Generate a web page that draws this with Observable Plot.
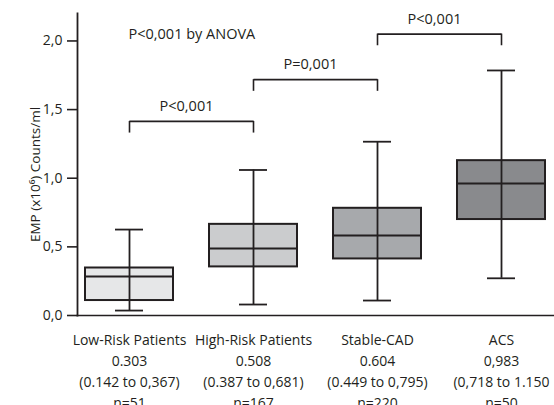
<!DOCTYPE html>
<html><head><meta charset="utf-8">
<script src="https://cdn.jsdelivr.net/npm/d3@7"></script>
<script src="https://cdn.jsdelivr.net/npm/@observablehq/plot@0.6"></script>
<style>body{margin:0;background:#fff;}</style>
</head><body><div id="chart"></div>
<script>
// Data
const categories = ["Low-Risk Patients", "High-Risk Patients", "Stable-CAD", "ACS"];
const whiskerLow  = [0.036, 0.080, 0.109, 0.271];
const q1          = [0.109, 0.354, 0.412, 0.699];
const median      = [0.284, 0.488, 0.582, 0.961];
const q3          = [0.346, 0.664, 0.781, 1.128];
const whiskerHigh = [0.626, 1.060, 1.266, 1.785];
const medianText = ["0.303", "0.508", "0.604", "0,983"];
const rangeText = ["(0.142 to 0,367)", "(0.387 to 0,681)", "(0.449 to 0,795)", "(0,718 to 1.150"];
const nText = ["n=51", "n=167", "n=220", "n=50"];
const yTicks = [0, 0.5, 1.0, 1.5, 2.0];
const yLabel = "EMP (x10\u2076) Counts/ml";
// pairwise comparisons
const compFrom  = ["Low-Risk Patients", "High-Risk Patients", "Stable-CAD"];
const compTo    = ["High-Risk Patients", "Stable-CAD", "ACS"];
const compLabel = ["P<0,001", "P=0,001", "P<0,001"];
const compLevel = [1.414, 1.718, 2.05];
const anovaLabel = "P<0,001 by ANOVA";
const anovaLevel = 2.045;

// styles
const fills = ["#e6e7e8", "#cbccce", "#a7a9ac", "#898a8d"];
const ink = "#231f20";
const legDepth = 0.085;

const rows = categories.map((c, i) => ({
  cat: c, lo: whiskerLow[i], q1: q1[i], med: median[i], q3: q3[i], hi: whiskerHigh[i], fill: fills[i]
}));
const comps = compFrom.map((a, i) => ({a, b: compTo[i], label: compLabel[i], level: compLevel[i]}));
const legs = comps.flatMap(c => [{x: c.a, level: c.level}, {x: c.b, level: c.level}]);
const idx = new Map(categories.map((c, i) => [c, i]));

const chart = Plot.plot({
  width: 554,
  height: 405,
  marginTop: 13,
  marginBottom: 90,
  marginLeft: 77,
  marginRight: 0,
  style: {fontFamily: "'Open Sans', sans-serif", fontSize: "14px", color: ink, background: "#fff"},
  x: {type: "band", domain: categories, paddingInner: 0.29, paddingOuter: 0.06, axis: null},
  y: {domain: [0, 2.2], axis: null},
  marks: [
    Plot.frame({anchor: "left", stroke: ink, strokeWidth: 1.8}),
    Plot.frame({anchor: "bottom", stroke: ink, strokeWidth: 1.6}),
    Plot.axisY(yTicks, {
      tickFormat: d => d.toFixed(1).replace(".", ","),
      tickSize: 10, tickPadding: 5, stroke: ink, strokeWidth: 1.6, fill: ink,
      fontSize: 14,
      label: null
    }),
    Plot.text([yLabel], {
      frameAnchor: "left", textAnchor: "middle", lineAnchor: "middle", dx: -42, dy: 10, rotate: -90,
      text: d => d, fill: ink, fontSize: 13.5
    }),
    Plot.axisX(categories, {
      tickSize: 0, tickPadding: 15, fontSize: 14, lineHeight: 1.49, fill: ink,
      tickFormat: d => { const i = idx.get(d); return [d, medianText[i], rangeText[i], nText[i]].join("\n"); }
    }),
    Plot.ruleX(rows, {x: "cat", y1: "lo", y2: "hi", stroke: ink, strokeWidth: 1.8}),
    Plot.barY(rows, {x: "cat", y1: "q1", y2: "q3", fill: "fill", stroke: ink, strokeWidth: 2}),
    Plot.ruleX(rows, {x: "cat", y1: "q1", y2: "q3", stroke: ink, strokeWidth: 1.8}),
    Plot.tickY(rows, {x: "cat", y: "med", stroke: ink, strokeWidth: 2}),
    Plot.tickY(rows, {x: "cat", y: "lo", stroke: ink, strokeWidth: 1.8, insetLeft: 30, insetRight: 30}),
    Plot.tickY(rows, {x: "cat", y: "hi", stroke: ink, strokeWidth: 1.8, insetLeft: 30, insetRight: 30}),
    // brackets
    Plot.link(comps, {x1: "a", x2: "b", y1: "level", y2: "level", stroke: ink, strokeWidth: 1.6}),
    Plot.ruleX(legs, {x: "x", y1: "level", y2: d => d.level - legDepth, stroke: ink, strokeWidth: 1.6}),
    Plot.text(comps, {x: "a", y: "level", text: "label", dx: 57, dy: -15, fill: ink, fontSize: 14.5}),
    Plot.text([anovaLabel], {x: () => categories[0], y: () => anovaLevel, text: d => d, textAnchor: "start", dx: -1, fill: ink, fontSize: 14.5})
  ]
});
document.getElementById("chart").append(chart);
</script>
</body></html>
